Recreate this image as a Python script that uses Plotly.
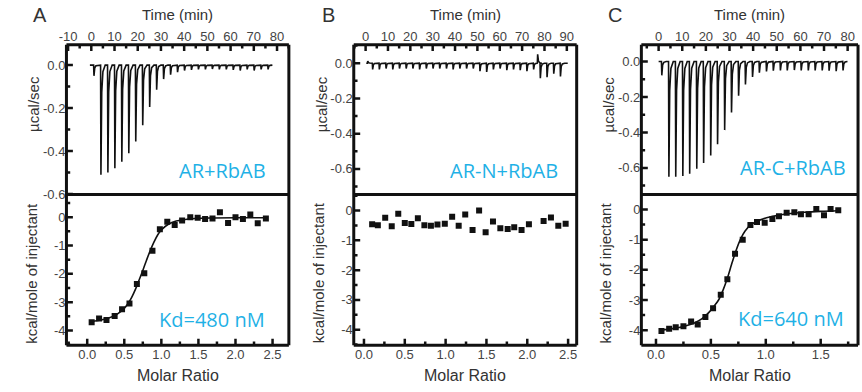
import plotly.graph_objects as go

# ---------------- data ----------------
# Panel A (AR + RbAB)
a_inj_time = [1, 4, 7, 10, 13, 16, 19, 22, 25, 28, 31, 34, 37, 40, 43, 46, 49, 52, 55, 58, 61, 64, 67, 70, 73, 76]
a_inj_peak = [-0.05, -0.51, -0.50, -0.48, -0.45, -0.41, -0.355, -0.28, -0.195, -0.115, -0.065, -0.045, -0.033,
              -0.025, -0.022, -0.02, -0.02, -0.018, -0.02, -0.02, -0.022, -0.025, -0.02, -0.025, -0.02, -0.02]
a_molar = [0.06, 0.16, 0.26, 0.37, 0.47, 0.57, 0.67, 0.77, 0.88, 0.98, 1.08, 1.18, 1.28, 1.39, 1.49, 1.59,
           1.69, 1.79, 1.90, 2.00, 2.10, 2.20, 2.30, 2.41]
a_heat = [-3.71, -3.58, -3.63, -3.49, -3.25, -3.05, -2.36, -1.98, -1.19, -0.43, -0.16, -0.28, -0.12, 0.0,
          -0.02, -0.07, -0.05, 0.17, -0.21, 0.0, -0.07, 0.09, -0.22, -0.05]
a_fit_x = [0.06, 0.2, 0.3, 0.4, 0.5, 0.55, 0.6, 0.65, 0.7, 0.75, 0.8, 0.85, 0.9, 0.95, 1.0, 1.1, 1.2, 1.3,
           1.45, 1.7, 2.0, 2.41]
a_fit_y = [-3.68, -3.62, -3.55, -3.43, -3.22, -3.05, -2.83, -2.55, -2.22, -1.88, -1.52, -1.18, -0.88, -0.63,
           -0.45, -0.24, -0.14, -0.09, -0.05, -0.03, -0.02, -0.02]

# Panel B (AR-N + RbAB)
b_inj_time = [0.8, 3, 6, 9, 12, 15, 18, 21, 24, 27, 30, 33, 36, 39, 42, 45, 48, 51, 54, 57, 60, 63, 66, 69,
              72, 75, 76.8, 78, 81, 84, 87]
b_inj_peak = [0.012, -0.035, -0.035, -0.03, -0.035, -0.03, -0.03, -0.03, -0.035, -0.03, -0.03, -0.03, -0.03,
              -0.035, -0.03, -0.03, -0.03, -0.045, -0.05, -0.035, -0.03, -0.04, -0.035, -0.04, -0.045, -0.035,
              0.05, -0.085, -0.08, -0.06, -0.075]
b_molar = [0.10, 0.17, 0.26, 0.34, 0.42, 0.50, 0.58, 0.66, 0.74, 0.82, 0.90, 0.99, 1.08, 1.16, 1.24, 1.33,
           1.41, 1.49, 1.58, 1.67, 1.76, 1.84, 1.93, 2.02, 2.20, 2.29, 2.38, 2.47]
b_heat = [-0.46, -0.49, -0.24, -0.53, -0.11, -0.42, -0.45, -0.26, -0.49, -0.51, -0.47, -0.44, -0.21, -0.51,
          -0.13, -0.65, 0.0, -0.73, -0.37, -0.59, -0.62, -0.56, -0.65, -0.46, -0.35, -0.23, -0.51, -0.44]

# Panel C (AR-C + RbAB)
c_inj_time = [1.2, 4.2, 7.1, 10.1, 13.0, 16.0, 18.9, 21.9, 24.8, 27.8, 30.7, 33.7, 36.6, 39.6, 42.5, 45.5,
              48.4, 51.4, 54.3, 57.3, 60.2, 63.2, 66.1, 69.1, 72.0, 75.0, 77.9]
c_inj_peak = [-0.078, -0.65, -0.65, -0.646, -0.633, -0.605, -0.572, -0.53, -0.467, -0.387, -0.287, -0.193,
              -0.13, -0.087, -0.063, -0.056, -0.052, -0.05, -0.05, -0.048, -0.05, -0.05, -0.05, -0.05, -0.052,
              -0.055, -0.05]
c_molar = [0.05, 0.12, 0.18, 0.25, 0.32, 0.38, 0.45, 0.52, 0.59, 0.65, 0.72, 0.79, 0.86, 0.92, 0.99, 1.06,
           1.12, 1.19, 1.26, 1.32, 1.39, 1.46, 1.53, 1.59, 1.66]
c_heat = [-4.03, -3.95, -3.90, -3.87, -3.71, -3.81, -3.56, -3.27, -2.83, -2.31, -1.47, -1.00, -0.51, -0.41,
          -0.44, -0.31, -0.22, -0.11, -0.09, -0.16, -0.16, 0.02, -0.19, 0.02, -0.02]
c_fit_x = [0.05, 0.15, 0.25, 0.35, 0.42, 0.48, 0.53, 0.57, 0.61, 0.65, 0.69, 0.73, 0.77, 0.81, 0.86, 0.92,
           1.0, 1.1, 1.2, 1.35, 1.5, 1.66]
c_fit_y = [-4.0, -3.95, -3.88, -3.76, -3.62, -3.42, -3.2, -3.0, -2.68, -2.28, -1.8, -1.35, -0.98, -0.72,
           -0.52, -0.39, -0.28, -0.2, -0.14, -0.09, -0.06, -0.04]

# tick labels
a_time_ticks = [-10, 0, 10, 20, 30, 40, 50, 60, 70, 80]
b_time_ticks = [0, 10, 20, 30, 40, 50, 60, 70, 80, 90]
c_time_ticks = [0, 10, 20, 30, 40, 50, 60, 70, 80]
power_ticks = [0.0, -0.2, -0.4, -0.6]
heat_ticks = [0, -1, -2, -3, -4]
a_ratio_ticks = [0.0, 0.5, 1.0, 1.5, 2.0, 2.5]
c_ratio_ticks = [0.0, 0.5, 1.0, 1.5]

panel_letters = ["A", "B", "C"]
sample_names = ["AR+RbAB", "AR-N+RbAB", "AR-C+RbAB"]
kd_labels = ["Kd=480 nM", None, "Kd=640 nM"]

# ---------------- helpers ----------------
W, H = 862, 392
INK = "#111111"
BLUE = "#1fb1e6"
AX_FONT = "Liberation Sans, Arial, Helvetica, sans-serif"


def thermogram(t0, t1, times, peaks):
    xs, ys = [t0], [0.0]
    for t, p in zip(times, peaks):
        xs += [t, t + 0.15, t + 0.5, t + 1.0, t + 2.0]
        ys += [0.0, p, p * 0.25, p * 0.06, 0.0]
    xs.append(t1)
    ys.append(0.0)
    return xs, ys


def with_minor(major):
    """major tick positions plus the half-way (minor) positions, incl. one half-step beyond each end"""
    step = major[1] - major[0]
    minors = [major[0] - step / 2] + [(a + b) / 2 for a, b in zip(major[:-1], major[1:])] + [major[-1] + step / 2]
    return major, minors


def px_x(a, b):
    return [a / W, b / W]


def px_y(top, bottom):
    return [1 - bottom / H, 1 - top / H]


fig = go.Figure()

# thermograms
for (t0, t1, times, peaks, ax) in [(-0.6, 78, a_inj_time, a_inj_peak, ("x", "y")),
                                   (0.3, 90.4, b_inj_time, b_inj_peak, ("x3", "y3")),
                                   (0.0, 79.5, c_inj_time, c_inj_peak, ("x5", "y5"))]:
    xs, ys = thermogram(t0, t1, times, peaks)
    fig.add_trace(go.Scatter(x=xs, y=ys, mode="lines", line=dict(color=INK, width=1.6),
                             xaxis=ax[0], yaxis=ax[1], showlegend=False, hoverinfo="skip"))

# fits
fig.add_trace(go.Scatter(x=a_fit_x, y=a_fit_y, mode="lines", line=dict(color=INK, width=1.6, shape="spline"),
                         xaxis="x2", yaxis="y2", showlegend=False))
fig.add_trace(go.Scatter(x=c_fit_x, y=c_fit_y, mode="lines", line=dict(color=INK, width=1.6, shape="spline"),
                         xaxis="x6", yaxis="y6", showlegend=False))

# integrated heats
for (mx, hy, ax) in [(a_molar, a_heat, ("x2", "y2")), (b_molar, b_heat, ("x4", "y4")),
                     (c_molar, c_heat, ("x6", "y6"))]:
    fig.add_trace(go.Scatter(x=mx, y=hy, mode="markers",
                             marker=dict(symbol="square", size=6, color=INK),
                             xaxis=ax[0], yaxis=ax[1], showlegend=False))

base = dict(showline=False, ticks="", showgrid=False, zeroline=False,
            tickfont=dict(family=AX_FONT, size=13, color="#444"))

panels = [
    dict(xd=(59, 283.5), tt=a_time_ticks, tr=[-10.7, 85.1], pr=[-0.602, 0.095],
         hr=[-4.52, 0.80], rt=a_ratio_ticks, rr=[-0.28, 2.72]),
    dict(xd=(349, 574), tt=b_time_ticks, tr=[-5.3, 94.4], pr=[-0.745, 0.105],
         hr=[-4.52, 0.54], rt=a_ratio_ticks, rr=[-0.125, 2.605]),
    dict(xd=(639.3, 858), tt=c_time_ticks, tr=[-7.3, 84.4], pr=[-0.75, 0.095],
         hr=[-4.5, 0.5], rt=c_ratio_ticks, rr=[-0.133, 1.84]),
]

TOP, MID, BOT = 45.5, 198, 351.5
MAJ_LEN, MIN_LEN = 6.5, 3.8
TICK_W = 2.5
layout_axes = {}
shapes = []
FRAME_W = 3


def add_ticks(values, rng, axis_ref, dom_ref, along, side, plen):
    """draw inside tick marks through the axis scale: along='x' -> vertical marks on a horizontal edge"""
    major, minors = values
    for vals, ln in ((major, MAJ_LEN), (minors, MIN_LEN)):
        for v in vals:
            if not (min(rng) - 1e-9 <= v <= max(rng) + 1e-9):
                continue
            frac = ln / plen
            if along == "x":
                e0, e1 = (1, 1 - frac) if side == "top" else (0, frac)
                shapes.append(dict(type="line", xref=axis_ref, yref=dom_ref, x0=v, x1=v, y0=e0, y1=e1,
                                   line=dict(color=INK, width=TICK_W), layer="above"))
            else:
                shapes.append(dict(type="line", xref=dom_ref, yref=axis_ref, x0=0, x1=frac, y0=v, y1=v,
                                   line=dict(color=INK, width=TICK_W), layer="above"))


for i, p in enumerate(panels):
    n_top = 2 * i + 1
    n_bot = 2 * i + 2
    xk_top = "xaxis" if n_top == 1 else f"xaxis{n_top}"
    yk_top = "yaxis" if n_top == 1 else f"yaxis{n_top}"
    ya_top = "y" if n_top == 1 else f"y{n_top}"
    xa_top = "x" if n_top == 1 else f"x{n_top}"
    layout_axes[xk_top] = dict(base, domain=px_x(*p["xd"]), anchor=ya_top, side="top", range=p["tr"],
                               tickmode="array", tickvals=p["tt"], ticktext=[str(v) for v in p["tt"]])
    layout_axes[yk_top] = dict(base, domain=px_y(TOP, MID), anchor=xa_top, range=p["pr"],
                               tickmode="array", tickvals=power_ticks,
                               ticktext=[f"{v:.1f}" for v in power_ticks])
    layout_axes[f"xaxis{n_bot}"] = dict(base, domain=px_x(*p["xd"]), anchor=f"y{n_bot}", range=p["rr"],
                                        tickmode="array", tickvals=p["rt"],
                                        ticktext=[f"{v:.1f}" for v in p["rt"]])
    layout_axes[f"yaxis{n_bot}"] = dict(base, domain=px_y(MID, BOT), anchor=f"x{n_bot}", range=p["hr"],
                                        tickmode="array", tickvals=heat_ticks,
                                        ticktext=[str(v) for v in heat_ticks])

    pw = p["xd"][1] - p["xd"][0]
    ph_top = MID - TOP
    ph_bot = BOT - MID
    add_ticks(with_minor(p["tt"]), p["tr"], xa_top, f"{ya_top} domain", "x", "top", ph_top)
    add_ticks(with_minor(power_ticks), p["pr"], ya_top, f"{xa_top} domain", "y", "left", pw)
    add_ticks(with_minor(p["rt"]), p["rr"], f"x{n_bot}", f"y{n_bot} domain", "x", "bottom", ph_bot)
    add_ticks(with_minor(heat_ticks), p["hr"], f"y{n_bot}", f"x{n_bot} domain", "y", "left", pw)

    x0, x1 = p["xd"][0] / W, p["xd"][1] / W
    yt, ym, yb = 1 - TOP / H, 1 - MID / H, 1 - BOT / H
    for (sx0, sy0, sx1, sy1) in [(x0, yt, x1, yt), (x0, ym, x1, ym), (x0, yb, x1, yb),
                                 (x0, yb, x0, yt), (x1, yb, x1, yt)]:
        shapes.append(dict(type="line", xref="paper", yref="paper", x0=sx0, y0=sy0, x1=sx1, y1=sy1,
                           line=dict(color=INK, width=FRAME_W), layer="above"))

ann = []


def add_text(text, x, y, size, color=INK, family=AX_FONT, angle=0):
    ann.append(dict(text=text, x=x / W, y=1 - y / H, xref="paper", yref="paper", showarrow=False,
                    xanchor="center", yanchor="middle", textangle=angle,
                    font=dict(family=family, size=size, color=color)))


letter_x = [32, 323, 613]
ylab_x = [25, 316, 606]
ylab2_x = [23, 313, 603]
sample_pos = [(216.7, 174), (501, 174), (792, 171)]
kd_pos = [(205.7, 325.5), None, (790, 324)]
for i, p in enumerate(panels):
    cx = (p["xd"][0] + p["xd"][1]) / 2
    add_text(panel_letters[i], letter_x[i], 15, 20, color="#333")
    add_text("Time (min)", cx, 14.5, 15, color="#333")
    add_text("Molar Ratio", cx, 382.5, 16, color="#333")
    add_text("µcal/sec", ylab_x[i], 106, 15, color="#333", angle=-90)
    add_text("kcal/mole of injectant", ylab2_x[i], 278, 15, color="#333", angle=-90)
    add_text(sample_names[i], sample_pos[i][0], sample_pos[i][1], 20, color=BLUE,
             family="Open Sans, Noto Sans, sans-serif")
    if kd_labels[i]:
        add_text(kd_labels[i], kd_pos[i][0], kd_pos[i][1], 20, color=BLUE,
                 family="Open Sans, Noto Sans, sans-serif")

fig.update_layout(width=W, height=H, margin=dict(l=0, r=0, t=0, b=0), paper_bgcolor="white",
                  plot_bgcolor="rgba(0,0,0,0)", annotations=ann, shapes=shapes, showlegend=False,
                  **layout_axes)

fig.write_html("out.html", config={"displayModeBar": False},
               post_script="document.body.style.margin='0px';document.body.style.overflow='hidden';")
